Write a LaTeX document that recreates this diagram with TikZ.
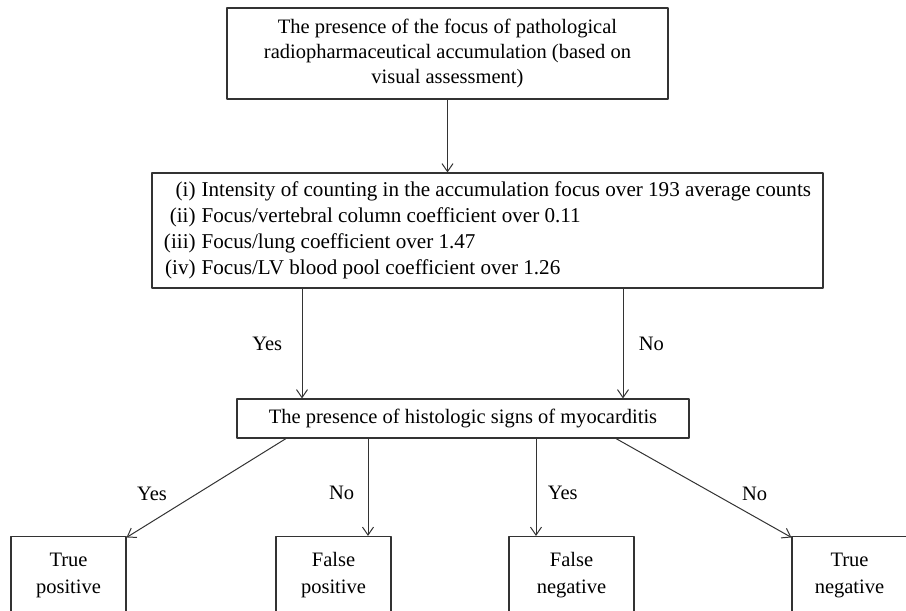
\documentclass[tikz,border=0pt]{standalone}
\usepackage{fontspec}
\setmainfont{Liberation Serif}
\usetikzlibrary{arrows.meta}

\begin{document}
\begin{tikzpicture}[x=1pt,y=-1pt,join=round,
        txt/.style={font=\fontsize{20.5}{25}\selectfont},
        box/.style={txt,draw=black!80,line width=1.1pt,inner sep=0pt,align=center},
        outcome/.style={box,minimum width=115pt,minimum height=77pt},
        flow/.style={draw=black!80,line width=1pt,-{Straight Barb[length=8pt,width=11pt]}}]
        \useasboundingbox (0,0) rectangle (906,611);
        % boxes
        \node[box,minimum width=441pt,minimum height=91pt] (focus) at (447.5,53.5)
                {The presence of the focus of pathological\\
                 radiopharmaceutical accumulation (based on\\
                 visual assessment)};
        \node[box,minimum width=671pt,minimum height=115pt,font=\fontsize{21.1}{26}\selectfont] (crit) at (487.5,230.5)
                {\begin{tabular}{@{}r@{\hspace{6pt}}l@{}}
                 (i) & Intensity of counting in the accumulation focus over 193 average counts\\
                 (ii) & Focus/vertebral column coefficient over 0.11\\
                 (iii) & Focus/lung coefficient over 1.47\\
                 (iv) & Focus/LV blood pool coefficient over 1.26
                 \end{tabular}};
        \node[box,minimum width=452pt,minimum height=39pt] (histo) at (463,418.5)
                {The presence of histologic signs of myocarditis};
        \node[outcome] (tp) at (68.5,575) {True\\[2pt]positive};
        \node[outcome] (fp) at (333.5,575) {False\\[2pt]positive};
        \node[outcome,minimum width=125pt] (fn) at (571.5,575) {False\\[2pt]negative};
        \node[outcome] (tn) at (849.5,575) {True\\[2pt]negative};
        % connectors
        \draw[flow] (focus.south) -- (focus.south |- crit.north);
        \draw[flow] ([xshift=-185.5pt]crit.south) coordinate (y1) -- (y1 |- histo.north)
                node[txt,midway,left=16pt] {Yes};
        \draw[flow] ([xshift=135.5pt]crit.south) coordinate (n1) -- (n1 |- histo.north)
                node[txt,midway,right=12pt] {No};
        \draw[flow] ([xshift=-177pt]histo.south) -- ([yshift=-1.5pt]tp.north east)
                node[txt,pos=.56,left=26pt] {Yes};
        \draw[flow] ([xshift=-95pt]histo.south) -- ([xshift=34.5pt]fp.north)
                node[txt,pos=.56,left=10pt] {No};
        \draw[flow] ([xshift=73pt]histo.south) -- ([xshift=-35.5pt]fn.north)
                node[txt,pos=.56,right=8pt] {Yes};
        \draw[flow] ([xshift=153pt]histo.south) -- ([yshift=-1.5pt]tn.north west)
                node[txt,pos=.56,right=24pt] {No};
\end{tikzpicture}
\end{document}
